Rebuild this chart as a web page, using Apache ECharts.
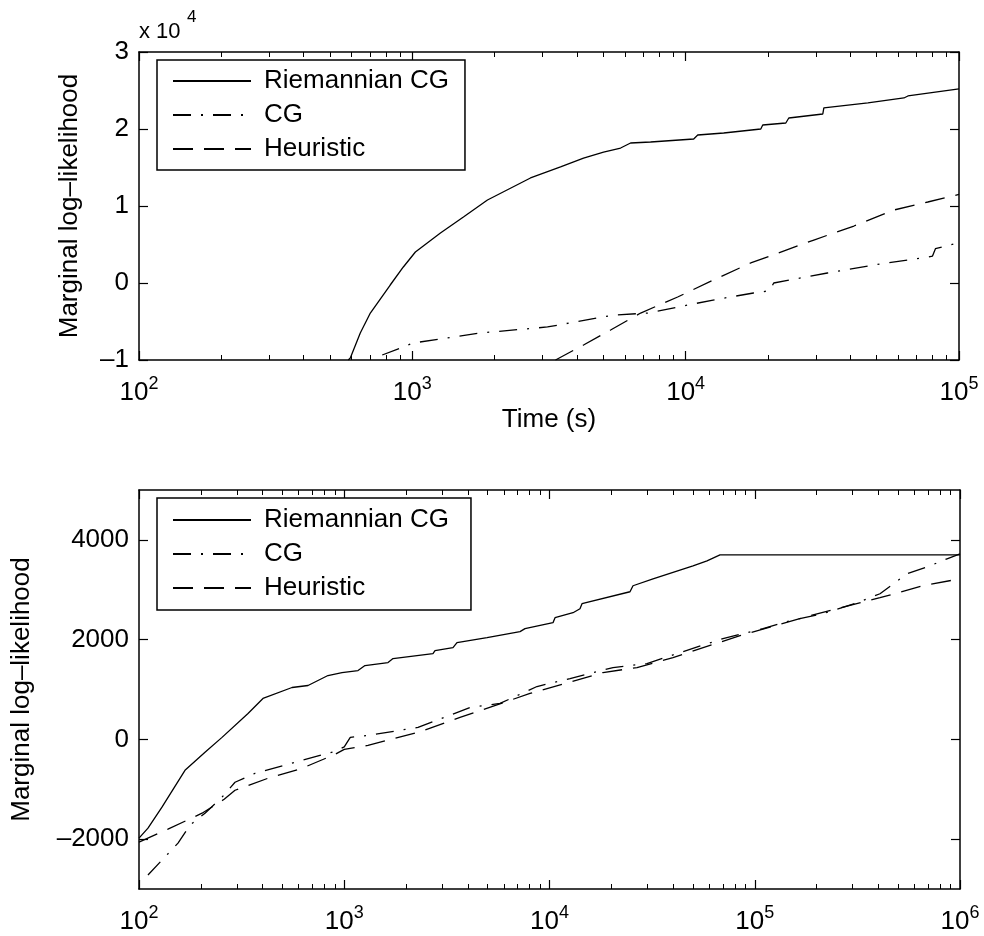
<!DOCTYPE html>
<html>
<head>
<meta charset="utf-8">
<script src="https://cdn.jsdelivr.net/npm/echarts@6/dist/echarts.min.js"></script>
<style>
  html, body { margin: 0; padding: 0; background: #fff; }
  #chart { width: 984px; height: 936px; }
</style>
</head>
<body>
<div id="chart"></div>
<script>
// top panel (time in s, values in raw units, axis shown x 10^4)
const rcgTopT = [583, 593, 645, 702, 830, 927, 1026, 1267, 1538, 1883, 2705, 3485, 4230, 5007, 5780, 6287, 7441, 10700, 11070, 13780, 18830, 19140, 23250, 23840, 31750, 32030, 46420, 62870, 65040, 100000];
const rcgTopV = [-10000, -9740, -6490, -3900, -260, 2080, 4030, 6490, 8570, 10780, 13640, 15070, 16230, 17010, 17530, 18180, 18310, 18700, 19220, 19480, 20000, 20520, 20780, 21430, 21950, 22730, 23380, 24030, 24290, 25200];
const cgTopT = [776, 1009, 1775, 3123, 5450, 7300, 10200, 12600, 17700, 20300, 21000, 33000, 48800, 77000, 80000, 82000, 100000];
const cgTopV = [-9350, -7790, -6490, -5710, -4160, -3900, -2860, -2210, -1300, -1000, 0, 1300, 2340, 3380, 3500, 4450, 5250];
const heurTopT = [3341, 4230, 5314, 6843, 9348, 13100, 17300, 29430, 41260, 57800, 76900, 100000];
const heurTopV = [-10000, -8050, -6100, -3900, -1820, 650, 2600, 5580, 7400, 9480, 10520, 11500];

// bottom panel
const rcgBotT = [100, 110.6, 129.4, 167.5, 209.7, 253.8, 339.7, 401.8, 556.6, 666, 833, 975, 1167, 1262, 1634, 1728, 2474, 2706, 2768, 3387, 3542, 4962, 7184, 7596, 10400, 10640, 13020, 14080, 14400, 24670, 25520, 31940, 50030, 58540, 67700, 1000000];
const rcgBotV = [-1980, -1780, -1360, -620, -260, 40, 520, 820, 1040, 1080, 1280, 1340, 1380, 1480, 1540, 1620, 1700, 1720, 1780, 1840, 1940, 2040, 2160, 2220, 2340, 2440, 2540, 2620, 2720, 2960, 3080, 3220, 3480, 3580, 3700, 3700];
const cgBotT = [110.6, 154.9, 177.2, 209.7, 253.8, 293.6, 367.4, 575.4, 901.6, 1000, 1070, 1305, 2288, 4100, 5739, 8690, 12590, 20390, 29850, 43230, 70020, 109700, 148500, 215000, 315000, 407600, 551900, 714000, 864700, 1000000];
const cgBotV = [-2720, -2080, -1720, -1480, -1160, -860, -680, -460, -240, -150, 40, 80, 240, 640, 720, 1060, 1220, 1440, 1520, 1740, 2020, 2220, 2380, 2520, 2740, 2920, 3320, 3480, 3620, 3720];
const heurBotT = [100, 138.4, 202.8, 260, 293.6, 425, 622.7, 901.6, 1000, 1305, 2288, 3664, 8035, 18220, 26690, 39970, 84770, 185800, 407600, 660300, 1000000];
const heurBotV = [-2060, -1800, -1480, -1200, -1020, -780, -580, -300, -200, -120, 140, 440, 920, 1340, 1440, 1640, 2080, 2480, 2840, 3080, 3220];

const seriesNames = ['Riemannian CG', 'CG', 'Heuristic'];
const topYTicks = [-10000, 0, 10000, 20000, 30000];
const botYTicks = [-2000, 0, 2000, 4000];

const FONT = '"Liberation Sans", Arial, Helvetica, sans-serif';
const dashTypes = ['solid', [18, 10, 2, 10], [20, 11]];

const pairs = (t, v) => t.map((x, i) => [x, v[i]]);
const dash = s => String(s).replace('-', '\u2013');

// 2..9 x 10^k between the decades
function minorTicks(maxExp) {
  const out = [];
  for (let e = 2; e < maxExp; e++) {
    for (let m = 2; m <= 9; m++) out.push(m * Math.pow(10, e));
  }
  return out;
}

const logLabel = {
  margin: 15,
  formatter: v => '{b|10}{e|' + Math.round(Math.log10(v)) + '}',
  rich: {
    b: { fontSize: 26, fontFamily: FONT, color: '#000', lineHeight: 36 },
    e: { fontSize: 18, fontFamily: FONT, color: '#000', lineHeight: 6, verticalAlign: 'top' }
  }
};

function xAxes(grid, maxExp, withName) {
  const max = Math.pow(10, maxExp);
  const base = {
    type: 'log', logBase: 10, min: 100, max: max, gridIndex: grid,
    axisLine: { show: true, onZero: false, lineStyle: { color: '#000', width: 1.5 } },
    axisTick: { show: true, inside: true, length: 9, lineStyle: { color: '#000', width: 1.2 } },
    splitLine: { show: false }
  };
  const minor = {
    type: 'log', logBase: 10, min: 100, max: max, gridIndex: grid,
    axisLine: { show: false, onZero: false },
    axisTick: { show: true, inside: true, length: 5, customValues: minorTicks(maxExp), lineStyle: { color: '#000', width: 1 } },
    axisLabel: { show: false },
    splitLine: { show: false }
  };
  return [
    Object.assign({}, base, {
      position: 'bottom',
      axisLabel: logLabel,
      name: withName ? 'Time (s)' : '',
      nameLocation: 'middle',
      nameGap: 34,
      nameTextStyle: { fontSize: 26, fontFamily: FONT, color: '#000' }
    }),
    Object.assign({}, base, { position: 'top', axisLabel: { show: false } }),
    Object.assign({}, minor, { position: 'bottom' }),
    Object.assign({}, minor, { position: 'top' })
  ];
}

function yAxes(grid, min, max, ticks, fmt, nameGap) {
  const base = {
    type: 'value', min: min, max: max, gridIndex: grid,
    axisLine: { show: true, onZero: false, lineStyle: { color: '#000', width: 1.5 } },
    axisTick: { show: true, inside: true, length: 9, customValues: ticks, lineStyle: { color: '#000', width: 1.2 } },
    splitLine: { show: false }
  };
  return [
    Object.assign({}, base, {
      position: 'left',
      axisLabel: { customValues: ticks, margin: 10, formatter: fmt, fontSize: 26, fontFamily: FONT, color: '#000' },
      name: 'Marginal log\u2013likelihood',
      nameLocation: 'middle',
      nameGap: nameGap,
      nameTextStyle: { fontSize: 26, fontFamily: FONT, color: '#000' }
    }),
    Object.assign({}, base, { position: 'right', axisLabel: { show: false } })
  ];
}

function lineSeries(name, data, xi, yi, k) {
  return {
    name: name, type: 'line', data: data, xAxisIndex: xi, yAxisIndex: yi,
    symbol: 'none', smooth: false, clip: true,
    lineStyle: { color: '#000', width: 1.3, type: dashTypes[k] },
    itemStyle: { color: '#000' }
  };
}

function legendAt(top, pad) {
  return {
    orient: 'vertical', left: 157, top: top,
    data: seriesNames,
    itemWidth: 78, itemHeight: 14, itemGap: 8,
    padding: pad,
    borderColor: '#000', borderWidth: 1.5, borderRadius: 0,
    backgroundColor: '#fff',
    selectedMode: false,
    itemStyle: { opacity: 0 },
    textStyle: { fontSize: 26, fontFamily: FONT, color: '#000', lineHeight: 26, padding: [0, 0, 0, 8] }
  };
}

const chart = echarts.init(document.getElementById('chart'), null, { renderer: 'canvas' });
chart.setOption({
  animation: false,
  backgroundColor: '#fff',
  textStyle: { fontFamily: FONT },
  grid: [
    { left: 139, top: 52, width: 820, height: 308 },
    { left: 139, top: 490, width: 821, height: 399 }
  ],
  xAxis: xAxes(0, 5, true).concat(xAxes(1, 6, false)),
  yAxis: yAxes(0, -10000, 30000, topYTicks, v => dash(v / 10000), 56)
    .concat(yAxes(1, -3000, 5000, botYTicks, v => dash(v), 104)),
  legend: [legendAt(60, [8, 16, 8, 15]), legendAt(498, [9, 22, 9, 15])],
  graphic: [
    { type: 'text', left: 139, top: 21, style: { text: 'x 10', fontSize: 22, fontFamily: FONT, fill: '#000' } },
    { type: 'text', left: 187, top: 9, style: { text: '4', fontSize: 17, fontFamily: FONT, fill: '#000' } }
  ],
  series: [
    lineSeries('Riemannian CG', pairs(rcgTopT, rcgTopV), 0, 0, 0),
    lineSeries('CG', pairs(cgTopT, cgTopV), 0, 0, 1),
    lineSeries('Heuristic', pairs(heurTopT, heurTopV), 0, 0, 2),
    lineSeries('Riemannian CG', pairs(rcgBotT, rcgBotV), 4, 2, 0),
    lineSeries('CG', pairs(cgBotT, cgBotV), 4, 2, 1),
    lineSeries('Heuristic', pairs(heurBotT, heurBotV), 4, 2, 2)
  ]
});
</script>
</body>
</html>
